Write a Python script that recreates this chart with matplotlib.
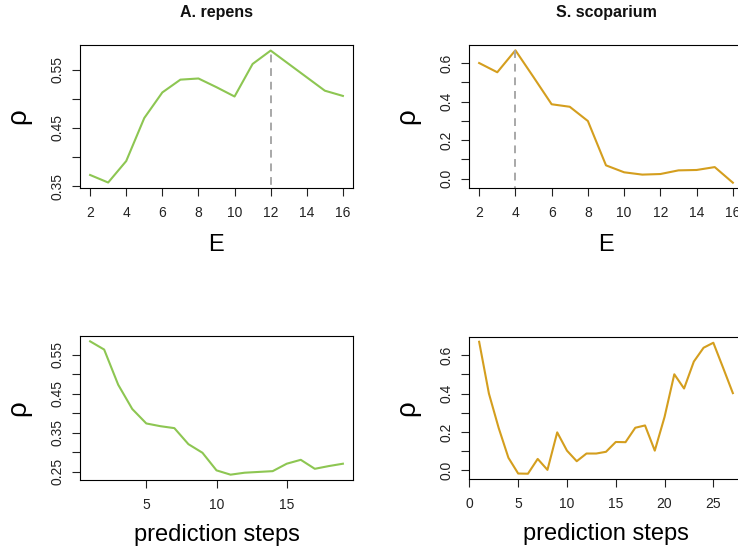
import numpy as np
import matplotlib
matplotlib.use('Agg')
import matplotlib.pyplot as plt

plt.rcParams['font.family'] = ['Liberation Sans', 'DejaVu Sans']

# embedding dimension vs rho
E_vals = list(range(2, 17))
rho_E_repens = [0.369, 0.356, 0.393, 0.467, 0.511, 0.533, 0.535, 0.520, 0.504,
                0.560, 0.583, 0.560, 0.537, 0.514, 0.505]
rho_E_scop = [0.600, 0.552, 0.666, 0.527, 0.386, 0.373, 0.299, 0.069, 0.033,
              0.021, 0.024, 0.043, 0.045, 0.060, -0.021]
best_E_repens = 12
best_E_scop = 4

# prediction horizon vs rho
steps_repens = list(range(1, 20))
rho_tp_repens = [0.584, 0.563, 0.473, 0.411, 0.374, 0.367, 0.362, 0.321, 0.299,
                 0.254, 0.243, 0.248, 0.250, 0.252, 0.271, 0.281, 0.258, 0.265,
                 0.271]
steps_scop = list(range(1, 28))
rho_tp_scop = [0.669, 0.400, 0.221, 0.066, -0.016, -0.017, 0.060, 0.003, 0.198,
               0.103, 0.048, 0.088, 0.088, 0.097, 0.148, 0.147, 0.222, 0.234,
               0.103, 0.278, 0.500, 0.426, 0.566, 0.638, 0.664, 0.534, 0.402]

GREEN = '#8DC652'
GOLD = '#D49E1E'

fig = plt.figure(figsize=(7.38, 5.53), dpi=100)

W, H = 738.0, 553.0
def add_ax(x0, y0, x1, y1):
    return fig.add_axes([x0 / W, 1 - y1 / H, (x1 - x0) / W, (y1 - y0) / H])

ax1 = add_ax(80, 45, 353, 188)
ax2 = add_ax(469, 45, 743, 188)
ax3 = add_ax(80, 336, 353, 480)
ax4 = add_ax(469, 336.5, 743, 479)

def style(ax, yticks, xticks, xlabel, xlab_y):
    ax.margins(x=0.04, y=0.04)
    for s in ax.spines.values():
        s.set_linewidth(0.8)
        s.set_color('black')
    fmt = '%.2f' if yticks[1] - yticks[0] < 0.09 else '%.1f'
    ax.set_yticks(yticks)
    ax.set_yticklabels([fmt % v if i % 2 == 0 else '' for i, v in enumerate(yticks)],
                       rotation=90, va='center')
    ax.set_xticks(xticks)
    ax.tick_params(direction='out', length=5.5, width=0.8, labelsize=10,
                   colors='#222222')
    ax.tick_params(axis='x', pad=7.5)
    ax.tick_params(axis='y', pad=6)
    ax.set_xlabel(xlabel, fontsize=17)
    ax.xaxis.label.set_va('center')
    ax.xaxis.set_label_coords(0.5, xlab_y)
    ax.set_ylabel(u'\u03c1', fontsize=20)
    ax.yaxis.label.set_va('center')
    ax.yaxis.set_label_coords(-0.225, 0.5)

def title(ax, txt):
    ax.text(0.5, 1.225, txt, transform=ax.transAxes, ha='center', va='center',
            fontsize=11.5, fontweight='bold', color='#111111')

ax1.plot(E_vals, rho_E_repens, color=GREEN, lw=1.5)
ax1.plot([best_E_repens, best_E_repens], [0, max(rho_E_repens)], color='#A8A8A8',
         lw=1.4, ls=(0, (4, 3)))
style(ax1, np.arange(0.35, 0.551, 0.05), range(2, 17, 2), 'E', -0.40)
ax1.set_ylim(0.3466, 0.5926)
title(ax1, 'A. repens')

ax2.plot(E_vals, rho_E_scop, color=GOLD, lw=1.5)
ax2.plot([best_E_scop, best_E_scop], [-1, max(rho_E_scop)], color='#A8A8A8',
         lw=1.4, ls=(0, (4, 3)))
style(ax2, np.arange(0.0, 0.61, 0.1), range(2, 17, 2), 'E', -0.40)
ax2.set_ylim(-0.0485, 0.6935)
title(ax2, 'S. scoparium')

ax3.plot(steps_repens, rho_tp_repens, color=GREEN, lw=1.5)
style(ax3, np.arange(0.25, 0.551, 0.05), [5, 10, 15], 'prediction steps', -0.385)

ax4.plot(steps_scop, rho_tp_scop, color=GOLD, lw=1.5)
style(ax4, np.arange(0.0, 0.61, 0.1), range(0, 26, 5), 'prediction steps', -0.385)

fig.savefig('out.png', dpi=100)
